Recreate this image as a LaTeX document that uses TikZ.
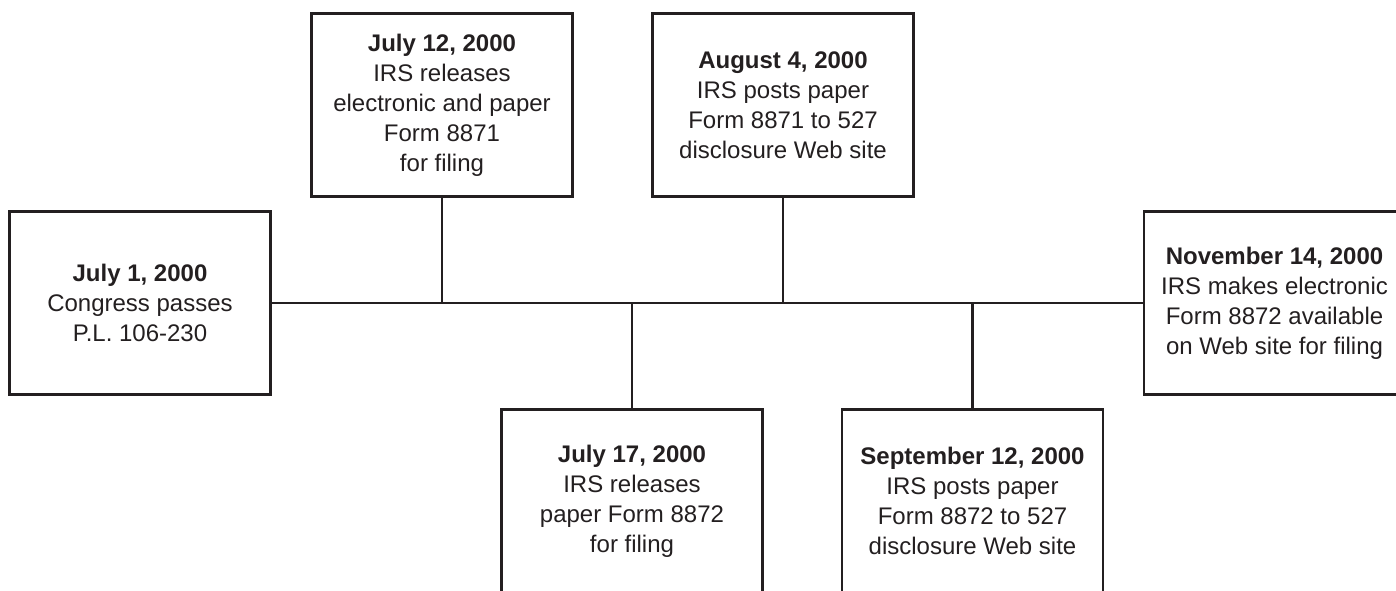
\documentclass[tikz,border=0pt]{standalone}
\usepackage{fontspec}
\setmainfont{Liberation Sans}
\usetikzlibrary{calc}
\definecolor{inkgray}{HTML}{231F20}

\begin{document}
\begin{tikzpicture}[x=1pt, y=-1pt,
	datebox/.style={draw=inkgray, line width=2.2pt, minimum width=261pt, minimum height=183pt,
		inner sep=0pt, align=center, text=inkgray, font=\fontsize{24}{30}\selectfont},
	tie/.style={draw=inkgray, line width=2.2pt}]
			%%%%% START %%%%%
			
			\useasboundingbox (0, 0) rectangle (1396, 591);
			\clip (0, 0) rectangle (1396, 591);
			
			\node[datebox] (july1) at (140, 303) {\textbf{July 1, 2000}\\Congress passes\\P.L. 106-230};
			\node[datebox] (july12) at (442, 105) {\textbf{July 12, 2000}\\IRS releases\\electronic and paper\\Form 8871\\for filing};
			\node[datebox] (aug4) at (783, 105) {\textbf{August 4, 2000}\\IRS posts paper\\Form 8871 to 527\\disclosure Web site};
			\node[datebox] (july17) at (632, 501) {\textbf{July 17, 2000}\\IRS releases\\paper Form 8872\\for filing};
			\node[datebox] (sep12) at (972.5, 501) {\textbf{September 12, 2000}\\IRS posts paper\\Form 8872 to 527\\disclosure Web site};
			\node[datebox] (nov14) at (1274.5, 303) {\textbf{November 14, 2000}\\IRS makes electronic\\Form 8872 available\\on Web site for filing};
			
			\draw[tie] (july1.east) -- (nov14.west);
			
			\draw[tie] (july12.south) -- (july12.south |- july1.east);
			\draw[tie] (aug4.south) -- (aug4.south |- july1.east);
			\draw[tie] (july17.north) -- (july17.north |- july1.east);
			\draw[tie] (sep12.north) -- (sep12.north |- july1.east);
			
			%%%%% END %%%%%
\end{tikzpicture}
\end{document}
